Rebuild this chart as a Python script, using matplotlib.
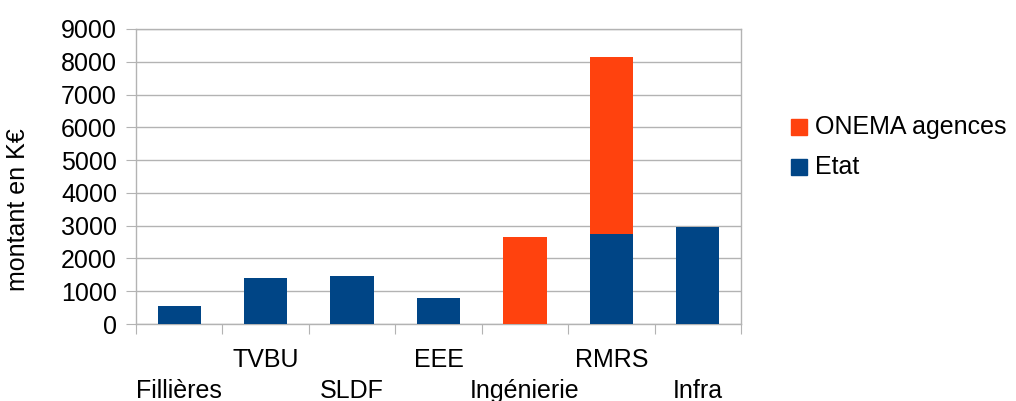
import matplotlib
matplotlib.use("Agg")
import matplotlib.pyplot as plt
from matplotlib.patches import Rectangle
from matplotlib.transforms import blended_transform_factory
import numpy as np

plt.rcParams['font.family'] = ['Liberation Sans', 'DejaVu Sans']

categories = ["Fillières", "TVBU", "SLDF", "EEE", "Ingénierie", "RMRS", "Infra"]
etat = [560, 1390, 1450, 805, 0, 2735, 2945]
onema = [0, 0, 0, 0, 2640, 5410, 0]
yticks = [0, 1000, 2000, 3000, 4000, 5000, 6000, 7000, 8000, 9000]
series_names = ["ONEMA agences", "Etat"]

blue = "#004586"
orange = "#ff420e"
grid = "#b3b3b3"
FS = 18

W, H = 1016, 401
fig = plt.figure(figsize=(W/100, H/100), dpi=100)
ax = fig.add_axes([136/W, 1 - 324/H, (741-136)/W, (324-29)/H])

x = np.arange(len(categories))
ax.bar(x, etat, width=0.5, color=blue, zorder=3)
ax.bar(x, onema, width=0.5, bottom=etat, color=orange, zorder=3)

ax.set_xlim(-0.5, len(categories) - 0.5)
ax.set_ylim(0, 9000)
ax.set_yticks(yticks)
ax.set_yticklabels([str(v) for v in yticks], fontsize=FS)
ax.yaxis.grid(True, color=grid, linewidth=1, zorder=0)
ax.tick_params(axis='y', length=7.2, color=grid, pad=6.5)

# category boundaries as major ticks
ax.set_xticks(np.arange(len(categories) + 1) - 0.5)
ax.set_xticklabels([])
ax.tick_params(axis='x', which='major', length=7.5, color=grid, direction='out')

tr = blended_transform_factory(ax.transData, fig.transFigure)
for i, c in enumerate(categories):
    yb = 1 - (398 if i % 2 == 0 else 367) / H
    ax.text(i, yb, c, transform=tr, ha='center', va='baseline', fontsize=FS, clip_on=False)

for s in ax.spines.values():
    s.set_color(grid)
    s.set_linewidth(1)

fig.text(18/W, 1 - 210/H, "montant en K€", rotation=90, ha='center', va='center', fontsize=FS)

# legend
leg_colors = [orange, blue]
leg_tops = [119, 159]
for name, col, top in zip(series_names, leg_colors, leg_tops):
    fig.patches.append(Rectangle((791/W, 1 - (top + 16)/H), 16/W, 16/H,
                                 transform=fig.transFigure, color=col, figure=fig))
    fig.text(815/W, 1 - (top + 8)/H, name, ha='left', va='center', fontsize=FS)

fig.savefig("out.png", dpi=100)
